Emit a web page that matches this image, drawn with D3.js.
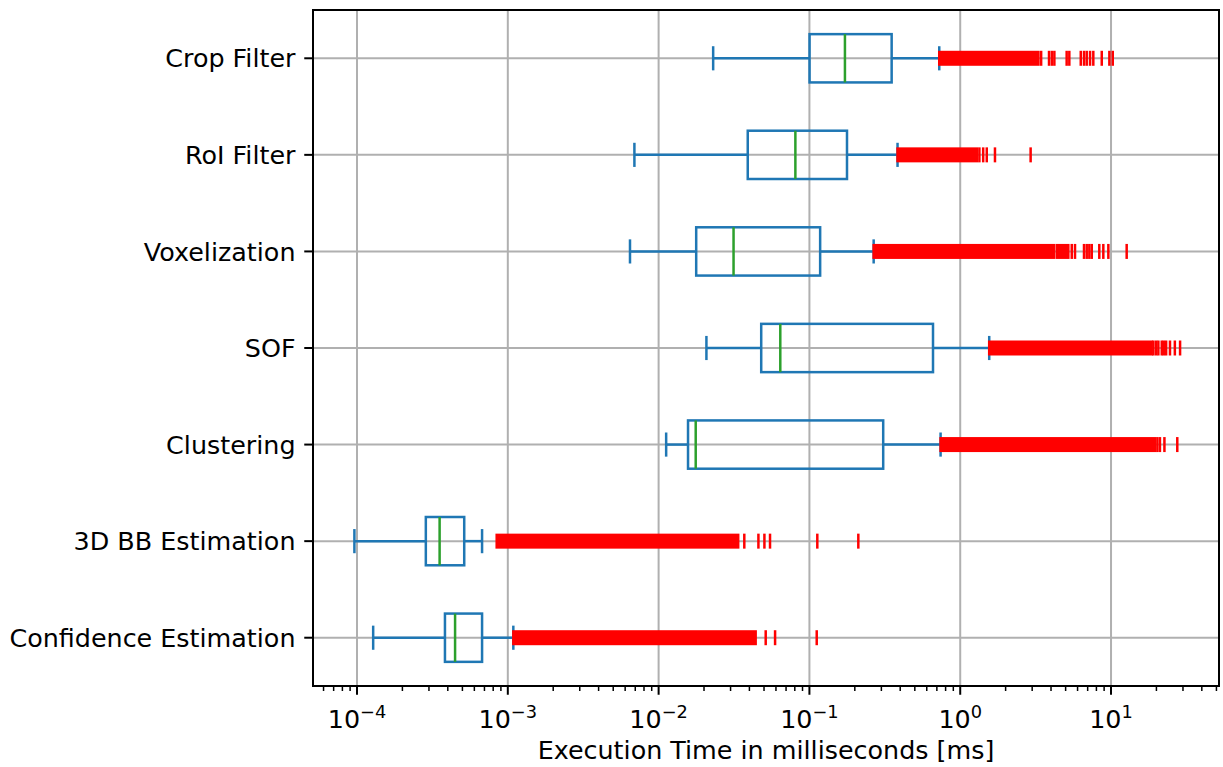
<!DOCTYPE html>
<html>

<head>
    <meta charset="utf-8">
    <style>
        body {
            margin: 0;
            background: white;
        }

        svg {
            display: block;
            font-family: 'DejaVu Sans';
        }
    </style>
</head>

<body>
    <svg width="1223" height="767"></svg>
</body>

<script src="https://d3js.org/d3.v7.min.js"></script>

<script>
    // top to bottom, as in the figure
    let categories = ["Crop Filter", "RoI Filter", "Voxelization", "SOF", "Clustering", "3D BB Estimation", "Confidence Estimation"]

    // box stats in ms
    let whiskerLow = [0.0230, 0.00691, 0.00646, 0.02075, 0.01122, 0.0000961, 0.000128]
    let q1 = [0.1002, 0.0390, 0.01775, 0.0479, 0.01567, 0.000286, 0.000383]
    let median = [0.172, 0.0807, 0.0314, 0.0641, 0.01762, 0.000353, 0.000447]
    let q3 = [0.351, 0.1775, 0.1178, 0.660, 0.3085, 0.000514, 0.000675]
    let whiskerHigh = [0.726, 0.384, 0.2667, 1.557, 0.741, 0.000675, 0.001088]

    // ranges where the outliers are packed too tight to tell apart
    let denseFliers = [
        [[0.726, 3.30]],
        [[0.384, 1.29]],
        [[0.2667, 4.17], [4.36, 5.21]],
        [[1.557, 18.6]],
        [[0.741, 19.6]],
        [[0.000844, 0.0337]],
        [[0.001088, 0.0440]]
    ]

    // single outliers you can still pick out
    let sparseFliers = [
        [3.44, 3.88, 4.05, 4.21, 5.08, 5.29, 6.30, 6.62, 6.90, 7.26, 7.63, 8.68, 9.75, 10.27],
        [1.34, 1.42, 1.50, 1.70, 2.93],
        [5.49, 5.77, 6.62, 6.90, 7.18, 7.45, 8.36, 8.89, 9.60, 12.7],
        [19.1, 19.9, 20.6, 21.7, 22.4, 23.2, 24.6, 26.5, 28.7],
        [20.3, 21.1, 22.6, 27.5],
        [0.0370, 0.0459, 0.0503, 0.0548, 0.1128, 0.211],
        [0.0513, 0.0592, 0.1118]
    ]

    let majorTicks = [-4, -3, -2, -1, 0, 1]
    let xLabel = "Execution Time in milliseconds [ms]"

    let plotLeft = 313, plotRight = 1219, plotTop = 10, plotBottom = 686

    let svg = d3.select("svg")

    let x = d3.scaleLog()
        .domain([Math.pow(10, -4.2918), Math.pow(10, 1.716)])
        .range([plotLeft, plotRight])

    let y = d3.scaleLinear()
        .domain([0.5, categories.length + 0.5])
        .range([plotTop, plotBottom])

    let step = y(2) - y(1)
    let boxH = step * 0.5
    let capH = step * 0.25
    let flierH = 15

    let blue = "#1f77b4"
    let green = "#2ca02c"
    let grid = "#b0b0b0"
    let lw = 2.5
    let fs = "25.4px"

    // minor ticks 2..9 in each decade inside the domain
    let minorTicks = []
    for (let e = -5; e <= 1; e++) {
        for (let m = 2; m <= 9; m++) {
            let v = m * Math.pow(10, e)
            if (v >= x.domain()[0] && v <= x.domain()[1]) minorTicks.push(v)
        }
    }

    // grid
    svg.append("g")
        .selectAll("line")
        .data(majorTicks)
        .join("line")
        .attr("x1", d => x(Math.pow(10, d)))
        .attr("x2", d => x(Math.pow(10, d)))
        .attr("y1", plotTop)
        .attr("y2", plotBottom)
        .style("stroke", grid)
        .style("stroke-width", 2)

    svg.append("g")
        .selectAll("line")
        .data(categories)
        .join("line")
        .attr("x1", plotLeft)
        .attr("x2", plotRight)
        .attr("y1", (d, i) => y(i + 1))
        .attr("y2", (d, i) => y(i + 1))
        .style("stroke", grid)
        .style("stroke-width", 2)

    let boxes = svg.append("g")
        .selectAll("g")
        .data(categories)
        .join("g")
        .attr("transform", (d, i) => "translate(0," + y(i + 1) + ")")

    // whiskers
    boxes.append("line")
        .attr("x1", (d, i) => x(whiskerLow[i]))
        .attr("x2", (d, i) => x(q1[i]))
        .style("stroke", blue)
        .style("stroke-width", lw)

    boxes.append("line")
        .attr("x1", (d, i) => x(q3[i]))
        .attr("x2", (d, i) => x(whiskerHigh[i]))
        .style("stroke", blue)
        .style("stroke-width", lw)

    // caps
    boxes.append("line")
        .attr("x1", (d, i) => x(whiskerLow[i]))
        .attr("x2", (d, i) => x(whiskerLow[i]))
        .attr("y1", -capH / 2)
        .attr("y2", capH / 2)
        .style("stroke", blue)
        .style("stroke-width", lw)

    boxes.append("line")
        .attr("x1", (d, i) => x(whiskerHigh[i]))
        .attr("x2", (d, i) => x(whiskerHigh[i]))
        .attr("y1", -capH / 2)
        .attr("y2", capH / 2)
        .style("stroke", blue)
        .style("stroke-width", lw)

    // box
    boxes.append("rect")
        .attr("x", (d, i) => x(q1[i]))
        .attr("width", (d, i) => x(q3[i]) - x(q1[i]))
        .attr("y", -boxH / 2)
        .attr("height", boxH)
        .style("fill", "none")
        .style("stroke", blue)
        .style("stroke-width", lw)

    // median
    boxes.append("line")
        .attr("x1", (d, i) => x(median[i]))
        .attr("x2", (d, i) => x(median[i]))
        .attr("y1", -boxH / 2)
        .attr("y2", boxH / 2)
        .style("stroke", green)
        .style("stroke-width", lw)

    // fliers
    boxes.each(function (d, i) {
        let g = d3.select(this)
        g.selectAll(".dense")
            .data(denseFliers[i])
            .join("rect")
            .attr("class", "dense")
            .attr("x", r => x(r[0]) - 1.25)
            .attr("width", r => x(r[1]) - x(r[0]) + 2.5)
            .attr("y", -flierH / 2)
            .attr("height", flierH)
            .style("fill", "red")

        g.selectAll(".flier")
            .data(sparseFliers[i])
            .join("line")
            .attr("class", "flier")
            .attr("x1", v => x(v))
            .attr("x2", v => x(v))
            .attr("y1", -flierH / 2)
            .attr("y2", flierH / 2)
            .style("stroke", "red")
            .style("stroke-width", lw)
    })

    // spines
    svg.append("rect")
        .attr("x", plotLeft)
        .attr("y", plotTop)
        .attr("width", plotRight - plotLeft)
        .attr("height", plotBottom - plotTop)
        .style("fill", "none")
        .style("stroke", "black")
        .style("stroke-width", 2)

    // x ticks
    svg.append("g")
        .selectAll("line")
        .data(majorTicks)
        .join("line")
        .attr("x1", d => x(Math.pow(10, d)))
        .attr("x2", d => x(Math.pow(10, d)))
        .attr("y1", plotBottom)
        .attr("y2", plotBottom + 8.75)
        .style("stroke", "black")
        .style("stroke-width", 2)

    svg.append("g")
        .selectAll("line")
        .data(minorTicks)
        .join("line")
        .attr("x1", d => x(d))
        .attr("x2", d => x(d))
        .attr("y1", plotBottom)
        .attr("y2", plotBottom + 5)
        .style("stroke", "black")
        .style("stroke-width", 1.5)

    let xt = svg.append("g")
        .selectAll("text")
        .data(majorTicks)
        .join("text")
        .attr("x", d => x(Math.pow(10, d)))
        .attr("y", 728)
        .attr("text-anchor", "middle")
        .style("font-size", fs)

    xt.append("tspan").text("10")
    xt.append("tspan")
        .attr("dy", -10)
        .style("font-size", "17.8px")
        .text(d => d < 0 ? "\u2212" + Math.abs(d) : d)

    // y ticks
    svg.append("g")
        .selectAll("line")
        .data(categories)
        .join("line")
        .attr("x1", plotLeft - 8.75)
        .attr("x2", plotLeft)
        .attr("y1", (d, i) => y(i + 1))
        .attr("y2", (d, i) => y(i + 1))
        .style("stroke", "black")
        .style("stroke-width", 2)

    svg.append("g")
        .selectAll("text")
        .data(categories)
        .join("text")
        .attr("x", plotLeft - 17.5)
        .attr("y", (d, i) => y(i + 1))
        .attr("dy", "0.36em")
        .attr("text-anchor", "end")
        .style("font-size", fs)
        .text(d => d)

    svg.append("text")
        .attr("x", (plotLeft + plotRight) / 2)
        .attr("y", 759)
        .attr("text-anchor", "middle")
        .style("font-size", fs)
        .text(xLabel)
</script>

</html>
